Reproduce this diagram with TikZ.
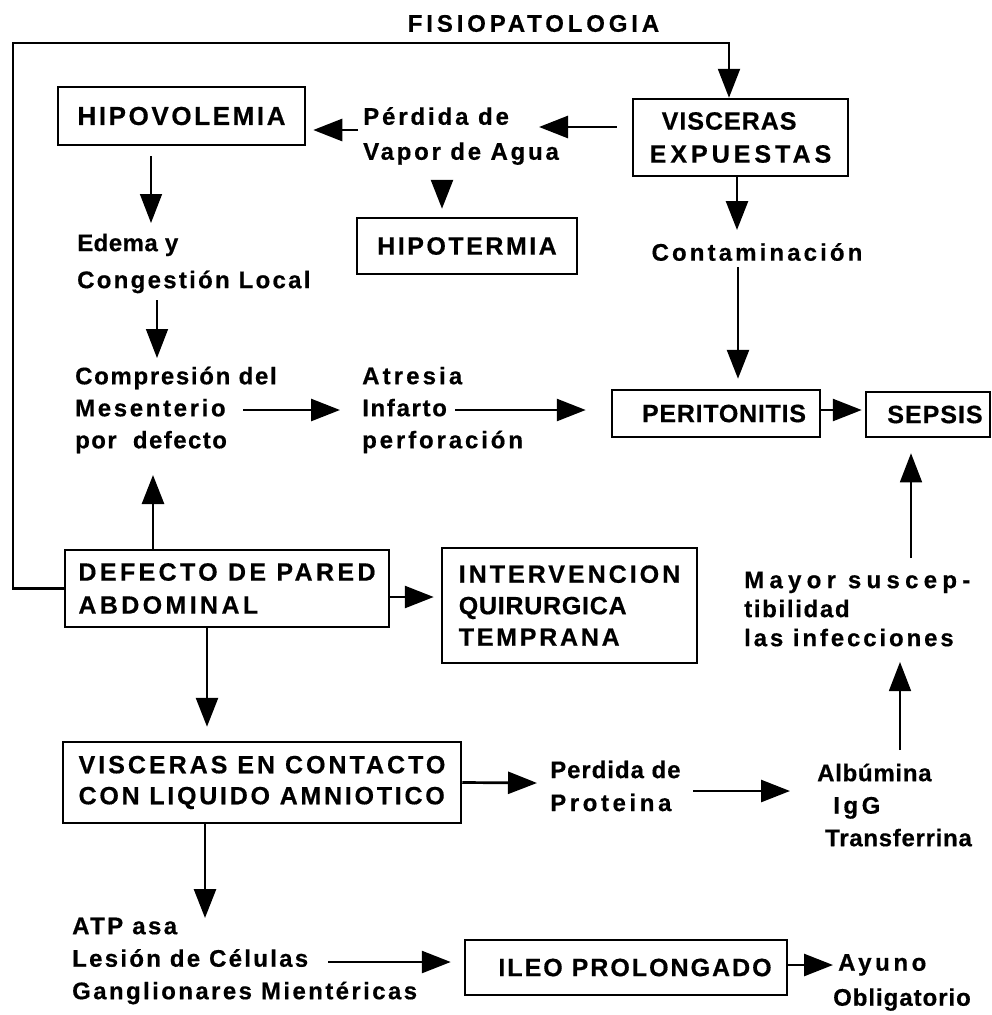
\documentclass[tikz,border=0pt]{standalone}
\usepackage{fontspec}
\setmainfont{Liberation Sans}[BoldFeatures={FakeBold=0.5}]
\usetikzlibrary{arrows.meta,calc}
\newcommand{\lsp}[2]{{\addfontfeature{LetterSpace=#1}#2}}
\begin{document}
\begin{tikzpicture}[x=1pt,y=-1pt,
  every node/.style={font=\bfseries\fontsize{24}{32}\selectfont, inner sep=0pt},
  box/.style={draw, line width=2.5pt, align=left},
  lbl/.style={anchor=west, align=left},
  arr/.style={line width=2.7pt, -{Triangle[length=29pt,width=22pt]}},
  tarr/.style={line width=1.5pt, -{Triangle[length=29pt,width=22pt]}},
]
\useasboundingbox (0,0) rectangle (992,1015);

% title
\node (title) at (533.5,23.5) {\lsp{16}{FISIOPATOLOGIA}};

% boxes
\node[box, minimum width=247pt, minimum height=58pt, font=\bfseries\fontsize{26}{30}\selectfont] (hipo) at (181.5,116) {\lsp{10}{HIPOVOLEMIA}};
\node[box, minimum width=215pt, minimum height=77pt, font=\bfseries\fontsize{25}{33}\selectfont] (visc) at (740.5,137.5) {\hspace*{12pt}\lsp{4}{VISCERAS}\\\lsp{16}{EXPUESTAS}};
\node[box, minimum width=220pt, minimum height=56pt, font=\bfseries\fontsize{25}{30}\selectfont] (hipot) at (467,246) {\lsp{10}{HIPOTERMIA}};
\node[box, minimum width=208pt, minimum height=47pt, font=\bfseries\fontsize{25}{30}\selectfont] (perit) at (716,413.5) {\hspace*{16pt}\lsp{3}{PERITONITIS}};
\node[box, minimum width=124pt, minimum height=45pt, font=\bfseries\fontsize{25}{30}\selectfont] (sepsis) at (928,414.5) {\hspace*{14pt}\lsp{4}{SEPSIS}};
\node[box, minimum width=324pt, minimum height=77pt, font=\bfseries\fontsize{25}{33}\selectfont] (defecto) at (227,588.5) {\lsp{13.5}{DEFECTO DE PARED}\\\lsp{13.5}{ABDOMINAL}};
\node[box, minimum width=255pt, minimum height=115pt, font=\bfseries\fontsize{25}{31.5}\selectfont] (interv) at (569.5,605.5) {\lsp{12}{INTERVENCION}\\\lsp{3}{QUIRURGICA}\\\lsp{11}{TEMPRANA}};
\node[box, minimum width=398pt, minimum height=81pt, font=\bfseries\fontsize{25}{31}\selectfont] (contacto) at (262,782.5) {\lsp{12}{VISCERAS EN CONTACTO}\\\lsp{11}{CON LIQUIDO AMNIOTICO}};
\node[box, minimum width=322pt, minimum height=55pt, font=\bfseries\fontsize{25}{30}\selectfont] (ileo) at (626,967.5) {\hspace*{18pt}\lsp{8}{ILEO PROLONGADO}};

% text labels
\node[lbl, font=\bfseries\fontsize{24}{35}\selectfont] (perdida) at (363,136) {\lsp{12}{Pérdida de}\\\lsp{11.5}{Vapor de Agua}};
\node[lbl, font=\bfseries\fontsize{24}{37}\selectfont] (edema) at (77,263.5) {\lsp{2}{Edema y}\\\lsp{9.5}{Congestión Local}};
\node[lbl] (compr) at (75,410) {\lsp{7}{Compresión del}\\\lsp{11}{Mesenterio}\\\lsp{6}{por\ \ defecto}};
\node[lbl] (atresia) at (362,410) {\lsp{13}{Atresia}\\\lsp{7}{Infarto}\\\lsp{12}{perforación}};
\node (contam) at (757,252) {\lsp{13}{Contaminación}};
\node[lbl, font=\bfseries\fontsize{24}{29}\selectfont] (mayor) at (744,609) {\lsp{22}{Mayor suscep-}\\\lsp{7}{tibilidad}\\\lsp{12}{las infecciones}};
\node[lbl, font=\bfseries\fontsize{24}{32.5}\selectfont] (albu) at (817,805) {\lsp{3}{Albúmina}\\\hspace*{16pt}\lsp{15}{IgG}\\\hspace*{8pt}\lsp{3}{Transferrina}};
\node[lbl, font=\bfseries\fontsize{24}{33}\selectfont] (prot) at (550,786) {\lsp{4}{Perdida de}\\\lsp{15}{Proteina}};
\node[lbl, font=\bfseries\fontsize{24}{32.5}\selectfont] (atp) at (72,961) {\lsp{10}{ATP asa}\\\lsp{9.5}{Lesión de Células}\\\lsp{10}{Ganglionares Mientéricas}};
\node[lbl, font=\bfseries\fontsize{24}{35}\selectfont] (ayuno) at (833,982.5) {\hspace*{5pt}\lsp{15}{Ayuno}\\\lsp{4}{Obligatorio}};

% connectors
\coordinate (bl) at (13,43);
\coordinate (tr) at (729,43);
\draw[arr, line width=2.2pt] (defecto.west) -| (bl) -- (tr) -- ($(visc.north)+(-11.5,0)$);
\draw[arr] ($(visc.west)+(-15,-10.5)$) -- ($(perdida.west)+(176,-9)$);
\draw[arr] ($(perdida.west)+(-5,-6)$) -- ($(hipo.east)+(7,14)$);
\draw[arr] ($(perdida.west)+(79,46)$) -- ($(hipot.north)+(-25,-8)$);
\draw[tarr] ($(hipo.south)+(-30.5,10)$) -- ($(edema.west)+(74,-40.5)$);
\draw[tarr] ($(edema.west)+(80,36.5)$) -- ($(compr.west)+(82,-52)$);
\draw[arr] ($(compr.west)+(168,0)$) -- ($(atresia.west)+(-22,0)$);
\draw[arr] ($(atresia.west)+(93,0)$) -- ($(perit.west)+(-25,-3.5)$);
\draw[arr] ($(visc.south)+(-3.5,0)$) -- ($(contam)+(-20,-22)$);
\draw[arr] ($(contam)+(-19,15)$) -- ($(perit.north)+(22,-10)$);
\draw[arr] ($(perit.east)+(0,-3.5)$) -- ($(sepsis.west)+(-3,-4.5)$);
\draw[tarr] ($(mayor.west)+(167,-51)$) -- ($(sepsis.south)+(-17,15)$);
\draw[tarr] ($(albu.west)+(83,-55)$) -- ($(mayor.west)+(156,53)$);
\draw[arr] ($(prot.west)+(143,5)$) -- ($(albu.west)+(-27,-14)$);
\draw[arr] (contacto.east) -- ($(prot.west)+(-13,-3)$);
\draw[arr] ($(defecto.south)+(-20,0)$) -- ($(contacto.north)+(-55,-14)$);
\draw[arr] ($(defecto.north)+(-74,0)$) -- ($(compr.west)+(78,65)$);
\draw[arr] ($(defecto.east)+(0,8.5)$) -- ($(interv.west)+(-7,-8.5)$);
\draw[arr] ($(contacto.south)+(-57,0)$) -- ($(atp.west)+(133,-43)$);
\draw[arr] ($(atp.west)+(256,1)$) -- ($(ileo.west)+(-13,-5.5)$);
\draw[arr] ($(ileo.east)+(0,-2.5)$) -- ($(ayuno.west)+(0,-17.5)$);
\end{tikzpicture}
\end{document}
